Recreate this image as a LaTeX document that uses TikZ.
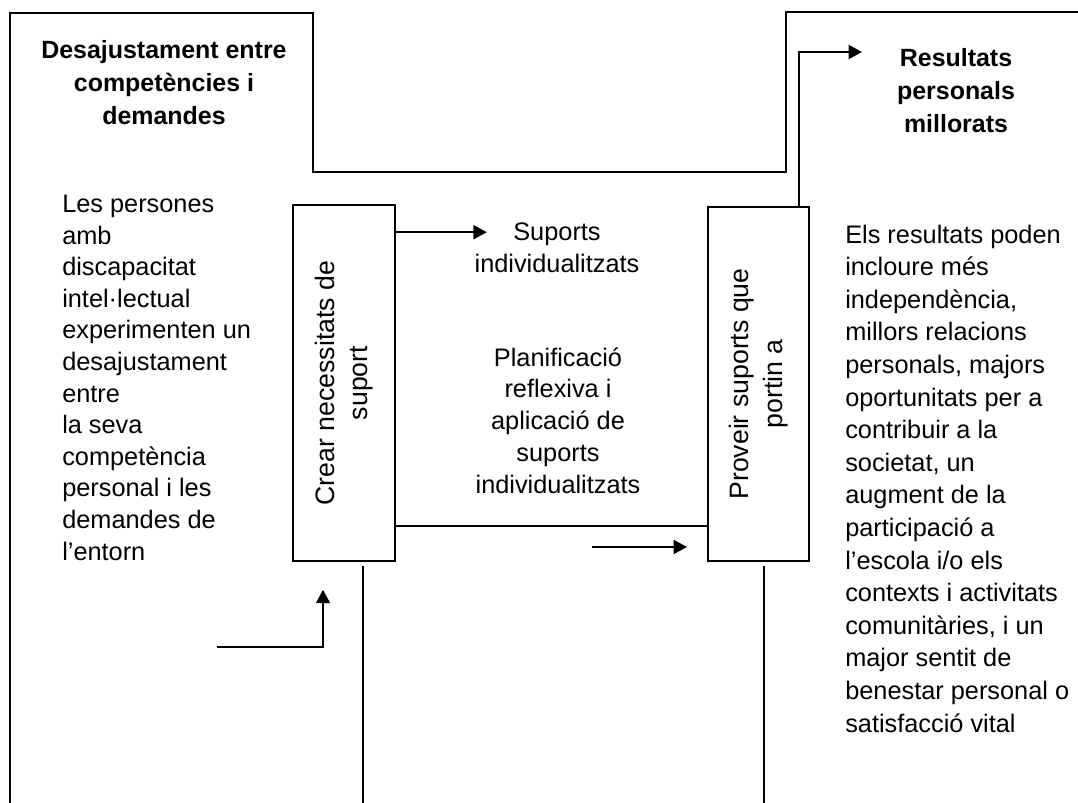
\documentclass[tikz,border=0pt]{standalone}
\usepackage{fontspec}
\setmainfont{Liberation Sans}
\usetikzlibrary{positioning,arrows.meta,calc}
\newcommand{\bodyfont}[2][19]{\fontsize{#1}{#2}\selectfont}
\tikzset{
  stagebox/.style={draw,line width=1.2pt,inner sep=0pt},
  stagetxt/.style={inner sep=0pt,rotate=90,align=center,font=\bodyfont[20]{25pt}},
  desc/.style={inner sep=0pt,align=left,anchor=base west},
  mid/.style={inner sep=0pt,align=center,anchor=base,font=\bodyfont{23.8pt}},
  head/.style={inner sep=0pt,align=center,anchor=base,font=\bodyfont[18.7]{24.9pt}\bfseries},
  ln/.style={line width=1.2pt},
  ar/.style={-{Triangle[length=10pt,width=10.5pt]},line width=1.2pt},
}

\begin{document}
\begin{tikzpicture}[x=0.75pt,y=-0.75pt]
  \useasboundingbox (0,0) rectangle (1078,803);
  % frames
  \draw[ln] (10,803) -- (10,13) -- (313,13) -- (313,172) -- (786,172) -- (786,12) -- (1078,12);
  % headings (placed by the baseline of their last line)
  \node[head] (desaj) at (164,124.5) {Desajustament entre\\competències i\\demandes};
  \node[head] (res) at (956,132.5) {Resultats\\personals\\millorats};
  % the two stages
  \node[stagebox,minimum width=76.5pt,minimum height=267pt] (crear) at (344,383) {};
  \node[stagetxt] at (crear) {Crear necessitats de\\suport};
  \node[stagebox,minimum width=75.75pt,minimum height=265.5pt] (proveir) at (758.5,384) {};
  \node[stagetxt] at (proveir) {Proveir suports que\\portin a};
  % texts
  \node[desc,font=\bodyfont{23.7pt}] (pers) at (62,560) {Les persones\\amb\\discapacitat\\intel·lectual\\experimenten un\\desajustament\\entre\\la seva\\competència\\personal i les\\demandes de\\l’entorn};
  \node[mid] (sup) at (557,272) {Suports\\individualitzats};
  \node[mid] (plan) at (558,493) {Planificació\\reflexiva i\\aplicació de\\suports\\individualitzats};
  \node[desc,font=\bodyfont{24.45pt}] (resdesc) at (845,732) {Els resultats poden\\incloure més\\independència,\\millors relacions\\personals, majors\\oportunitats per a\\contribuir a la\\societat, un\\augment de la\\participació a\\l’escola i/o els\\contexts i activitats\\comunitàries, i un\\major sentit de\\benestar personal o\\satisfacció vital};
  % connectors
  \coordinate (fa) at (592,547);
  \coordinate (fb) at (217,647);
  \coordinate (rtip) at (862,52);
  \draw[ar] ($(crear.north east)+(0,28)$) -- ++(91,0);
  \draw[ln] ($(crear.south east)+(0,-36)$) -- ($(proveir.south west)+(0,-36)$);
  \draw[ar] (fa) -- ++(95,0);
  \draw[ar] (fb) -| ($(crear.south)+(-21,28)$);
  \draw[ln] ($(crear.south)+(19,4)$) -- ++(0,240);
  \draw[ln] ($(proveir.south)+(5.5,4)$) -- ++(0,240);
  \draw[ar] ($(proveir.north)+(40.5,0)$) |- (rtip);
\end{tikzpicture}
\end{document}
